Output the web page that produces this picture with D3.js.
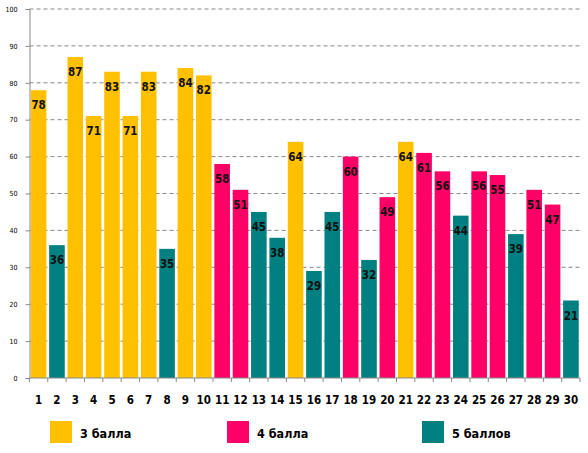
<html><head>
<script src="https://d3js.org/d3.v7.min.js"></script>
<style>
  body { margin: 0; background: #fff; }
  text { font-family: "DejaVu Sans Condensed", "DejaVu Sans", sans-serif; font-stretch: condensed; }
  line.grid { stroke: #888; stroke-width: 1px; stroke-dasharray: 4,3; }
</style>
</head>
<body>
<svg id="chart" width="588" height="453"></svg>
<script>
// values per student (1..30) and the grade each bar is coloured by
const students = d3.range(1, 31);
const scores = [78, 36, 87, 71, 83, 71, 83, 35, 84, 82, 58, 51, 45, 38, 64,
                29, 45, 60, 32, 49, 64, 61, 56, 44, 56, 55, 39, 51, 47, 21];
const grades = [3, 5, 3, 3, 3, 3, 3, 5, 3, 3, 4, 4, 5, 5, 3,
                5, 5, 4, 5, 4, 3, 4, 4, 5, 4, 4, 5, 4, 4, 5];
const yTicks = [0, 10, 20, 30, 40, 50, 60, 70, 80, 90, 100];
const legendGrades = [3, 4, 5];
const legendLabels = ["3 балла", "4 балла", "5 баллов"];

const svg = d3.select("#chart");
const plotLeft = 29.5, plotRight = 580, plotTop = 9, plotBottom = 378;

const x = d3.scaleBand().domain(students).range([plotLeft, plotRight]).paddingInner(0.15).paddingOuter(0.07);
const y = d3.scaleLinear().domain([0, 100]).range([plotBottom, plotTop]);
const color = d3.scaleOrdinal().domain(legendGrades).range(["#FFC000", "#FF0066", "#008080"]);

// gridlines
svg.selectAll("line.grid").data(yTicks.filter(d => d > 0))
   .join("line").attr("class", "grid")
   .attr("x1", plotLeft).attr("x2", plotRight)
   .attr("y1", d => y(d)).attr("y2", d => y(d));

// y axis
const yAxis = svg.append("g").attr("transform", "translate(" + plotLeft + ",0)")
   .call(d3.axisLeft(y).tickValues(yTicks).tickSize(4).tickPadding(8));
yAxis.select(".domain").attr("stroke", "#888");
yAxis.selectAll(".tick line").attr("stroke", "#888");
yAxis.selectAll(".tick text").attr("font-size", 7).attr("fill", "#000")
   .style("font-family", "'DejaVu Sans', sans-serif");

// bars
const data = students.map((s, i) => ({s: s, v: scores[i], g: grades[i]}));
svg.selectAll("rect.bar").data(data)
   .join("rect").attr("class", "bar")
   .attr("x", d => x(d.s)).attr("width", x.bandwidth())
   .attr("y", d => y(d.v)).attr("height", d => plotBottom - y(d.v))
   .attr("fill", d => color(d.g));

// value labels
svg.selectAll("text.val").data(data)
   .join("text").attr("class", "val")
   .attr("x", d => x(d.s) + x.bandwidth() / 2)
   .attr("y", d => y(d.v) + 19)
   .attr("text-anchor", "middle")
   .attr("font-size", 11.5).attr("font-weight", "bold")
   .attr("fill", "#111")
   .text(d => d.v);

// x axis: boundary ticks
const boundaries = students.map(s => x(s) - x.step() * x.paddingInner() / 2).concat([plotRight]);
svg.append("line").attr("x1", plotLeft).attr("x2", plotRight).attr("y1", plotBottom).attr("y2", plotBottom)
   .attr("stroke", "#888");
svg.selectAll("line.xt").data(boundaries)
   .join("line").attr("class", "xt")
   .attr("x1", d => d).attr("x2", d => d).attr("y1", plotBottom).attr("y2", plotBottom + 4)
   .attr("stroke", "#888");
svg.selectAll("text.xl").data(students)
   .join("text").attr("class", "xl")
   .attr("x", d => x(d) + x.bandwidth() / 2).attr("y", 403.5)
   .attr("text-anchor", "middle")
   .attr("font-size", 11.5).attr("font-weight", "bold")
   .text(d => d);

// legend
const legendX = [50, 227, 422];
const leg = svg.selectAll("g.leg").data(legendGrades)
   .join("g").attr("class", "leg")
   .attr("transform", (d, i) => "translate(" + legendX[i] + ",421)");
leg.append("rect").attr("width", 22).attr("height", 22).attr("fill", d => color(d));
leg.append("text").attr("x", 30).attr("y", 16.5)
   .attr("font-size", 12.5).attr("font-weight", "bold")
   .style("font-family", "'DejaVu Sans', sans-serif")
   .text((d, i) => legendLabels[i]);
</script>
</body>
</html>
